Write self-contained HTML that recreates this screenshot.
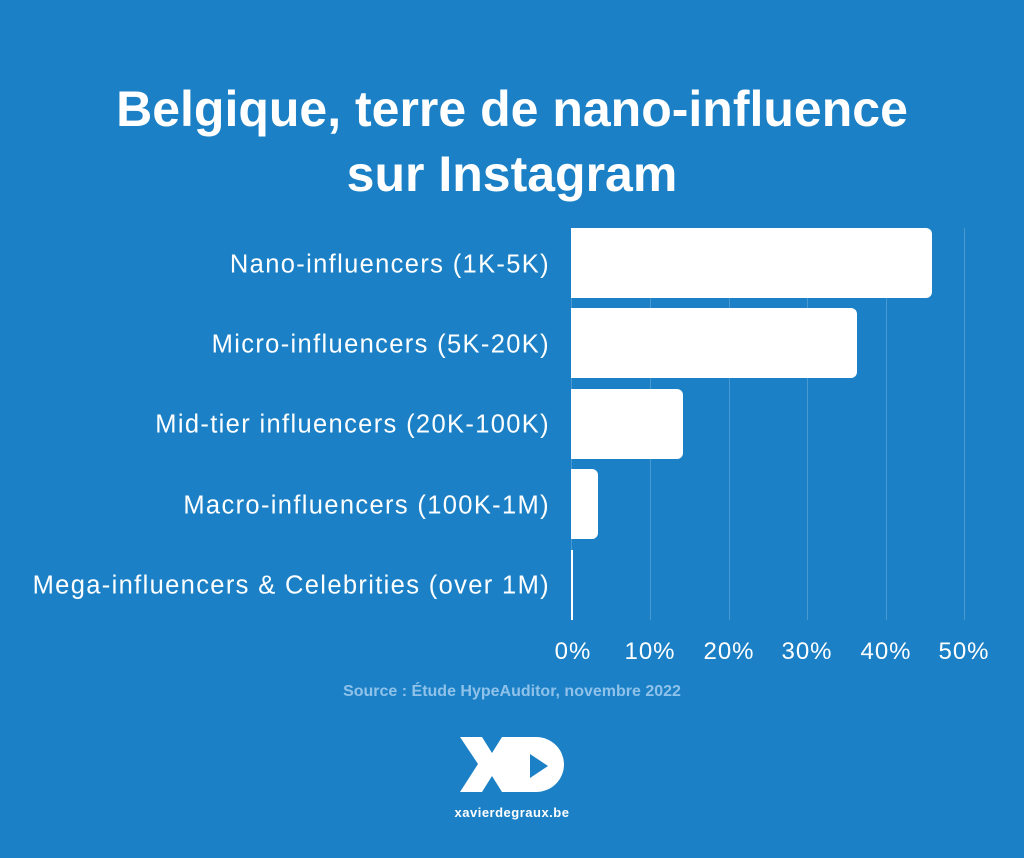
<!DOCTYPE html><html><head><meta charset="utf-8"><style>
body{margin:0;width:1024px;height:858px;background:#1b80c5;position:relative;overflow:hidden;font-family:"Liberation Sans",sans-serif;color:#fff}
.t{position:absolute;left:0;width:1024px;text-align:center;font-weight:bold;font-size:50px}
.l{position:absolute;right:474px;font-size:25.5px;letter-spacing:1.35px;white-space:nowrap;transform:translateY(-50%)}
.g{position:absolute;top:228px;height:392px;width:1px;background:rgba(255,255,255,0.2)}
.b{position:absolute;left:571px;height:70px;background:#fff;border-radius:0 6px 6px 0}
.x{position:absolute;top:638px;font-size:24px;letter-spacing:1px;transform:translateX(-50%)}
</style></head><body>
<div class="t" style="top:80px">Belgique, terre de nano-influence</div>
<div class="t" style="top:145px">sur Instagram</div>
<div class="g" style="left:571px"></div><div class="g" style="left:650px"></div><div class="g" style="left:729px"></div><div class="g" style="left:807px"></div><div class="g" style="left:886px"></div><div class="g" style="left:964px"></div>
<div class="b" style="top:228px;width:361px"></div>
<div class="b" style="top:308px;width:286px"></div>
<div class="b" style="top:389px;width:112px"></div>
<div class="b" style="top:469px;width:27px"></div>
<div class="b" style="top:550px;width:2px;border-radius:0"></div>
<div class="l" style="top:265px">Nano-influencers (1K-5K)</div>
<div class="l" style="top:345px">Micro-influencers (5K-20K)</div>
<div class="l" style="top:425px">Mid-tier influencers (20K-100K)</div>
<div class="l" style="top:506px">Macro-influencers (100K-1M)</div>
<div class="l" style="top:586px">Mega-influencers &amp; Celebrities (over 1M)</div>
<div class="x" style="left:573px">0%</div><div class="x" style="left:650px">10%</div><div class="x" style="left:729px">20%</div><div class="x" style="left:807px">30%</div><div class="x" style="left:886px">40%</div><div class="x" style="left:964px">50%</div>
<div style="position:absolute;top:683px;left:0;width:1024px;text-align:center;font-weight:bold;font-size:16px;color:#8fc2ea">Source : Étude HypeAuditor, novembre 2022</div>
<svg style="position:absolute;left:440px;top:720px" width="160" height="110" viewBox="0 0 160 110">
<polygon points="20,17 42,17 52,33 62,17 82,17 64,44 82,72 62,72 52,56 42,72 20,72 38,44" fill="#fff"/>
<path d="M62,17 H96 A28,27.5 0 0 1 96,72 H62 L62,44 Z" fill="#fff"/>
<polygon points="90,34 90,58 108,46" fill="#1b80c5"/>
<text x="72" y="97" text-anchor="middle" font-family="Liberation Sans" font-weight="bold" font-size="13" letter-spacing="0.5" fill="#fff">xavierdegraux.be</text>
</svg>
</body></html>
